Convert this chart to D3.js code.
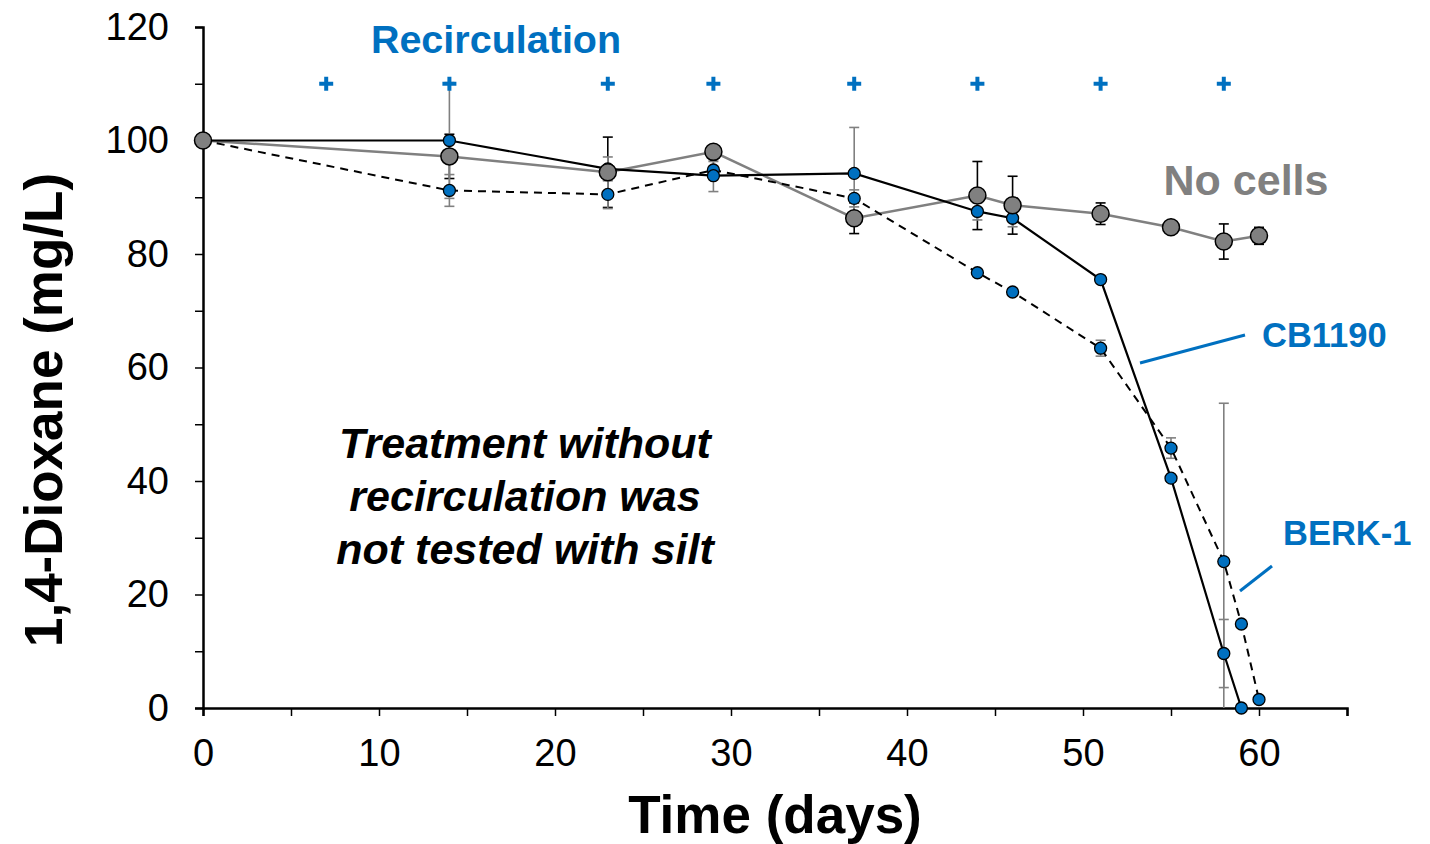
<!DOCTYPE html>
<html>
<head>
<meta charset="utf-8">
<script src="https://cdn.jsdelivr.net/npm/d3@7"></script>
<style>
  body { margin: 0; background: #fff; }
  svg text { font-family: "Liberation Sans", Arial, sans-serif; }
</style>
</head>
<body>
<div id="chart"></div>
<script>
// 1,4-Dioxane removal over time, silt microcosms with recirculation.
const cbDays = [0, 14, 23, 29, 37, 44, 46, 51, 55, 58, 59];
const cbValues = [100, 100, 95, 93.8, 94.2, 87.5, 86.3, 75.5, 40.5, 9.6, 0];
const cbErrors = [0, 10.2, 2.1, 2.8, 8.1, 1.5, 1.5, 0.6, 0.5, 6, 0];

const berkDays = [0, 14, 23, 29, 37, 44, 46, 51, 55, 58, 59, 60];
const berkValues = [100, 91.2, 90.5, 94.8, 89.8, 76.7, 73.3, 63.4, 45.8, 25.8, 14.8, 1.5];
const berkErrors = [0, 2.8, 2.5, 1.5, 1.5, 0.5, 0.5, 1.4, 1.8, 27.9, 0, 0];

const noCellDays = [0, 14, 23, 29, 37, 44, 46, 51, 55, 58, 60];
const noCellValues = [100, 97.2, 94.4, 98, 86.3, 90.3, 88.6, 87.1, 84.7, 82.2, 83.2];
const noCellErrors = [0, 3.9, 6.2, 1, 2.7, 6, 5.1, 1.9, 0.5, 3.1, 1.5];

const recircDays = [7, 14, 23, 29, 37, 44, 51, 58];
const recircLevel = 110;

const xTicks = [0, 10, 20, 30, 40, 50, 60];
const xMinorTicks = [0, 5, 10, 15, 20, 25, 30, 35, 40, 45, 50, 55, 60, 65];
const yTicks = [0, 20, 40, 60, 80, 100, 120];
const yMinorTicks = [0, 10, 20, 30, 40, 50, 60, 70, 80, 90, 100, 110, 120];

const noteLines = ['Treatment without', 'recirculation was', 'not tested with silt'];

const BLUE = '#0070C0';
const GRAY = '#808080';

const width = 1430, height = 844;
const m = { top: 27, right: 83, bottom: 136, left: 203 };
const innerW = width - m.left - m.right;
const innerH = height - m.top - m.bottom;

const svg = d3.select('#chart').append('svg').attr('width', width).attr('height', height);
const g = svg.append('g').attr('transform', `translate(${m.left},${m.top})`);

const x = d3.scaleLinear().domain([0, 65]).range([0, innerW]);
const y = d3.scaleLinear().domain([0, 120]).range([innerH, 0]);

const zip = (ds, vs, es) => ds.map((d, i) => ({ day: d, value: vs[i], err: es[i] }));
const cb = zip(cbDays, cbValues, cbErrors);
const berk = zip(berkDays, berkValues, berkErrors);
const noCells = zip(noCellDays, noCellValues, noCellErrors);

// axes: minor ticks without labels, then labelled ticks
const xAxis = g.append('g').attr('transform', `translate(0,${innerH})`)
  .call(d3.axisBottom(x).tickValues(xMinorTicks).tickSize(8).tickFormat(''));
xAxis.select('.domain').attr('stroke-width', 2.5);
xAxis.selectAll('.tick line').attr('stroke-width', 1.5);
g.append('g').attr('transform', `translate(0,${innerH})`)
  .call(d3.axisBottom(x).tickValues(xTicks).tickSize(0).tickPadding(31))
  .call(a => a.select('.domain').remove())
  .selectAll('text').style('font-size', '38px').attr('fill', '#000');

const yAxis = g.append('g')
  .call(d3.axisLeft(y).tickValues(yMinorTicks).tickSize(8).tickFormat(''));
yAxis.select('.domain').attr('stroke-width', 2.5);
yAxis.selectAll('.tick line').attr('stroke-width', 1.5);
g.append('g')
  .call(d3.axisLeft(y).tickValues(yTicks).tickSize(0).tickPadding(34))
  .call(a => a.select('.domain').remove())
  .selectAll('text').style('font-size', '38px').attr('fill', '#000');

// error bars
function errorBars(data, color, width) {
  const eg = g.append('g').attr('stroke', color).attr('stroke-width', width);
  data.filter(d => d.err > 0.3).forEach(d => {
    const lo = y(Math.max(0, d.value - d.err)), hi = y(d.value + d.err), cx = x(d.day);
    eg.append('line').attr('x1', cx).attr('x2', cx).attr('y1', lo).attr('y2', hi);
    eg.append('line').attr('x1', cx - 5).attr('x2', cx + 5).attr('y1', hi).attr('y2', hi);
    if (d.value - d.err > 0)
      eg.append('line').attr('x1', cx - 5).attr('x2', cx + 5).attr('y1', lo).attr('y2', lo);
  });
}
errorBars(noCells, '#000', 1.6);
errorBars(cb, GRAY, 1.6);
errorBars(berk, GRAY, 1.6);

const line = d3.line().x(d => x(d.day)).y(d => y(d.value));

g.append('path').datum(noCells).attr('d', line)
  .attr('fill', 'none').attr('stroke', GRAY).attr('stroke-width', 2.5);
g.append('path').datum(berk).attr('d', line)
  .attr('fill', 'none').attr('stroke', '#000').attr('stroke-width', 2).attr('stroke-dasharray', '8,6');
g.append('path').datum(cb).attr('d', line)
  .attr('fill', 'none').attr('stroke', '#000').attr('stroke-width', 2.2);

g.selectAll('.bk').data(berk).enter().append('circle')
  .attr('cx', d => x(d.day)).attr('cy', d => y(d.value)).attr('r', 6)
  .attr('fill', BLUE).attr('stroke', '#000').attr('stroke-width', 1.3);
g.selectAll('.cb').data(cb).enter().append('circle')
  .attr('cx', d => x(d.day)).attr('cy', d => y(d.value)).attr('r', 6)
  .attr('fill', BLUE).attr('stroke', '#000').attr('stroke-width', 1.3);
g.selectAll('.nc').data(noCells).enter().append('circle')
  .attr('cx', d => x(d.day)).attr('cy', d => y(d.value)).attr('r', 8.5)
  .attr('fill', GRAY).attr('stroke', '#000').attr('stroke-width', 1.5);

// recirculation markers
const plus = g.append('g').attr('stroke', BLUE).attr('stroke-width', 4);
recircDays.forEach(d => {
  const cx = x(d), cy = y(recircLevel);
  plus.append('line').attr('x1', cx - 7).attr('x2', cx + 7).attr('y1', cy).attr('y2', cy);
  plus.append('line').attr('x1', cx).attr('x2', cx).attr('y1', cy - 7).attr('y2', cy + 7);
});

svg.append('text').attr('x', 496).attr('y', 53).attr('text-anchor', 'middle')
  .style('font-size', '39.5px').style('font-weight', 'bold').attr('fill', BLUE).text('Recirculation');

svg.append('text').attr('x', 1246).attr('y', 195).attr('text-anchor', 'middle')
  .style('font-size', '43px').style('font-weight', 'bold').attr('fill', GRAY).text('No cells');

svg.append('text').attr('x', 1262).attr('y', 347)
  .style('font-size', '34.5px').style('font-weight', 'bold').attr('fill', BLUE).text('CB1190');
svg.append('text').attr('x', 1283).attr('y', 545)
  .style('font-size', '34.5px').style('font-weight', 'bold').attr('fill', BLUE).text('BERK-1');

svg.append('line').attr('x1', 1140).attr('y1', 363).attr('x2', 1245).attr('y2', 335)
  .attr('stroke', BLUE).attr('stroke-width', 3);
svg.append('line').attr('x1', 1240).attr('y1', 591).attr('x2', 1272).attr('y2', 566)
  .attr('stroke', BLUE).attr('stroke-width', 3);

const note = svg.append('text').attr('text-anchor', 'middle')
  .style('font-size', '43px').style('font-weight', 'bold').style('font-style', 'italic');
noteLines.forEach((t, i) => note.append('tspan').attr('x', 525).attr('y', 458 + i * 53).text(t));

svg.append('text').attr('x', 775).attr('y', 833).attr('text-anchor', 'middle')
  .style('font-size', '53px').style('font-weight', 'bold').text('Time (days)');
svg.append('text').attr('transform', 'translate(62,410) rotate(-90)').attr('text-anchor', 'middle')
  .style('font-size', '53px').style('font-weight', 'bold').text('1,4-Dioxane (mg/L)');
</script>
</body>
</html>
